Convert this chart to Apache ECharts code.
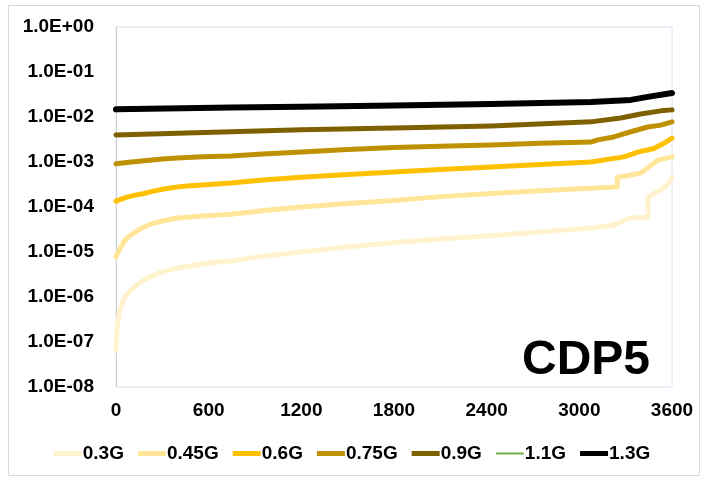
<!DOCTYPE html>
<html>
<head>
<meta charset="utf-8">
<script src="https://cdn.jsdelivr.net/npm/echarts@6/dist/echarts.min.js"></script>
<style>html,body{margin:0;padding:0;background:#fff;}#c{width:704px;height:484px;}</style>
</head>
<body>
<div id="c"></div>
<script>
// ---- data ----
var seriesNames = ['0.3G', '0.45G', '0.6G', '0.75G', '0.9G', '1.1G', '1.3G'];
var xTicks = [0, 600, 1200, 1800, 2400, 3000, 3600];

var t03 = [0, 3, 6, 11, 16, 22, 32, 43, 55, 75, 97, 120, 150, 183, 230, 280, 340, 400, 480, 560, 650, 745, 950, 1200, 1500, 1800, 2100, 2430, 2750, 3074, 3150, 3223, 3290, 3333, 3443, 3445, 3527, 3570, 3600];
var v03 = [6.6e-8, 1.2e-7, 1.8e-7, 2.6e-7, 3.4e-7, 4.5e-7, 6.0e-7, 7.6e-7, 9.5e-7, 1.2e-6, 1.4e-6, 1.7e-6, 2.0e-6, 2.4e-6, 2.9e-6, 3.4e-6, 3.9e-6, 4.4e-6, 4.9e-6, 5.4e-6, 5.9e-6, 6.3e-6, 8.0e-6, 1.0e-5, 1.3e-5, 1.6e-5, 1.95e-5, 2.3e-5, 2.8e-5, 3.4e-5, 3.7e-5, 4.0e-5, 5.0e-5, 5.7e-5, 6.0e-5, 1.66e-4, 2.4e-4, 3.1e-4, 4.6e-4];

var t045 = [0, 5, 10, 20, 32, 45, 60, 78, 97, 120, 140, 160, 183, 230, 280, 340, 400, 480, 560, 650, 745, 950, 1200, 1500, 1800, 2100, 2430, 2750, 3074, 3245, 3247, 3320, 3397, 3443, 3508, 3600];
var v045 = [7.8e-6, 8.7e-6, 9.5e-6, 1.1e-5, 1.3e-5, 1.55e-5, 1.85e-5, 2.1e-5, 2.4e-5, 2.7e-5, 3.0e-5, 3.3e-5, 3.6e-5, 4.2e-5, 4.7e-5, 5.2e-5, 5.7e-5, 6.0e-5, 6.3e-5, 6.6e-5, 6.9e-5, 8.3e-5, 1.0e-4, 1.2e-4, 1.4e-4, 1.7e-4, 2.0e-4, 2.3e-4, 2.6e-4, 2.8e-4, 4.6e-4, 5.0e-4, 5.7e-4, 7.4e-4, 1.1e-3, 1.3e-3];

var t06 = [0, 20, 40, 65, 97, 140, 183, 230, 280, 340, 400, 480, 560, 650, 745, 950, 1200, 1500, 1800, 2100, 2430, 2750, 3074, 3289, 3378, 3483, 3547, 3600];
var v06 = [1.35e-4, 1.44e-4, 1.52e-4, 1.63e-4, 1.75e-4, 1.88e-4, 2.0e-4, 2.2e-4, 2.4e-4, 2.6e-4, 2.8e-4, 2.95e-4, 3.1e-4, 3.25e-4, 3.4e-4, 4.0e-4, 4.6e-4, 5.3e-4, 6.0e-4, 6.8e-4, 7.7e-4, 8.8e-4, 1.0e-3, 1.3e-3, 1.66e-3, 2.0e-3, 2.6e-3, 3.4e-3];

var t075 = [0, 100, 200, 300, 400, 560, 745, 950, 1200, 1500, 1800, 2100, 2430, 2750, 3074, 3119, 3223, 3333, 3443, 3527, 3600];
var v075 = [9.1e-4, 1.0e-3, 1.08e-3, 1.16e-3, 1.23e-3, 1.3e-3, 1.36e-3, 1.5e-3, 1.66e-3, 1.9e-3, 2.1e-3, 2.25e-3, 2.4e-3, 2.6e-3, 2.78e-3, 3.1e-3, 3.6e-3, 4.7e-3, 6.0e-3, 6.6e-3, 7.8e-3];

var t09 = [0, 400, 745, 1200, 1800, 2430, 3074, 3268, 3397, 3527, 3600];
var v09 = [4.0e-3, 4.35e-3, 4.7e-3, 5.2e-3, 5.7e-3, 6.3e-3, 7.8e-3, 9.5e-3, 1.17e-2, 1.37e-2, 1.44e-2];

var t11 = [];
var v11 = [];

var t13 = [0, 745, 1200, 1800, 2430, 3074, 3333, 3443, 3600];
var v13 = [1.48e-2, 1.62e-2, 1.68e-2, 1.8e-2, 1.95e-2, 2.15e-2, 2.4e-2, 2.8e-2, 3.4e-2];

// ---- build ----
var times = [t03, t045, t06, t075, t09, t11, t13];
var values = [v03, v045, v06, v075, v09, v11, v13];
var colors = ['#FFF2CC', '#FFE699', '#FFC000', '#BF9000', '#7F6000', '#70AD47', '#000000'];
var widths = [5, 5, 5, 5, 5, 2, 6];

function pairs(t, v) { return t.map(function (x, i) { return [x, v[i]]; }); }

var FONT = "'Liberation Sans', Arial, sans-serif";

var series = seriesNames.map(function (n, i) {
  return {
    name: n,
    type: 'line',
    data: pairs(times[i], values[i]),
    symbol: 'none',
    showSymbol: false,
    smooth: false,
    z: 10 - i,
    lineStyle: { color: colors[i], width: widths[i], join: 'round', cap: 'round' },
    itemStyle: { color: colors[i] }
  };
});

function fmtE(v) {
  var e = Math.round(Math.log10(v));
  var s = e < 0 ? '-' : '+';
  var a = Math.abs(e);
  return '1.0E' + s + (a < 10 ? '0' + a : a);
}

var legendData = seriesNames.map(function (n, i) {
  return i === 5
    ? { name: n, icon: 'path://M0,0L28,0L28,2L0,2Z', itemStyle: { color: colors[i] } }
    : { name: n, icon: 'rect', itemStyle: { color: colors[i] } };
});

var chart = echarts.init(document.getElementById('c'));
chart.setOption({
  animation: false,
  backgroundColor: '#fff',
  grid: { left: 116, right: 32, top: 27, bottom: 97, show: true, borderColor: '#DAE3F3', borderWidth: 1, containLabel: false },
  xAxis: {
    type: 'value', min: 0, max: 3600, interval: 600,
    axisLine: { show: false },
    axisTick: { show: false },
    splitLine: { show: false },
    axisLabel: { color: '#000', fontFamily: FONT, fontWeight: 'bold', fontSize: 19, margin: 14, formatter: function (v) { return String(v); } }
  },
  yAxis: {
    type: 'log', logBase: 10, min: 1e-8, max: 1, interval: 1,
    axisLine: { show: true, lineStyle: { color: '#D0D0D0', width: 1 } },
    axisTick: { show: false },
    splitLine: { show: false },
    minorTick: { show: false },
    axisLabel: { color: '#000', fontFamily: FONT, fontWeight: 'bold', fontSize: 19, margin: 22, formatter: fmtE }
  },
  legend: {
    bottom: 16, left: 'center',
    itemWidth: 28, itemHeight: 5, itemGap: 14,
    data: legendData,
    textStyle: { color: '#000', fontFamily: FONT, fontWeight: 'bold', fontSize: 19, padding: [0, 0, 0, -4] }
  },
  graphic: [
    { type: 'rect', shape: { x: 8.5, y: 5.5, width: 691, height: 470 }, style: { fill: 'none', stroke: '#D9D9D9', lineWidth: 1 }, silent: true, z: -1 },
    { type: 'text', left: 522, top: 337, style: { text: 'CDP5', font: "bold 48px 'Liberation Sans', Arial, sans-serif", fill: '#000' }, z: 100 }
  ],
  series: series
});
</script>
</body>
</html>
